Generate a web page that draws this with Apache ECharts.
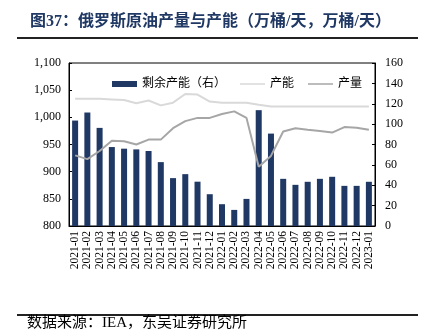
<!DOCTYPE html>
<html><head><meta charset="utf-8">
<script src="https://cdn.jsdelivr.net/npm/echarts@6/dist/echarts.min.js"></script>
<style>html,body{margin:0;padding:0;background:#fff}#c{width:427px;height:336px}</style>
</head><body><div id="c"></div>
<script>
var categories = ['2021-01','2021-02','2021-03','2021-04','2021-05','2021-06','2021-07','2021-08','2021-09','2021-10','2021-11','2021-12','2022-01','2022-02','2022-03','2022-04','2022-05','2022-06','2022-07','2022-08','2022-09','2022-10','2022-11','2022-12','2023-01'];
var spareCapacity = [103.5,111.4,96.3,77.5,75.9,75.2,73.6,62.7,47,50.9,43.5,31.2,21.4,15.8,26.6,113.7,90.7,46.3,40.4,43.4,46.3,48.3,39.4,39.4,43.4];
var capacity = [1034,1034,1034,1033,1032,1026,1031,1022,1027,1043,1042,1029,1027,1027,1027,1023,1020,1020,1020,1020,1020,1020,1020,1020,1020];
var production = [930,923,938,957,956,950,959,959,980,993,999,999,1006,1011,999,909,929,974,980,977,975,972,982,981,977];
var leftTicks = {min:800,max:1100,interval:50};
var rightTicks = {min:0,max:160,interval:20};
var FONT = 'Liberation Serif, "Noto Sans CJK SC", serif';
var LINE_ICON = 'path://M0,0L0.01,0L0.01,0.01Z M0,2.2h25v1.6h-25z M0,6L0.01,6L0.01,5.99Z';
var chart = echarts.init(document.getElementById('c'));
chart.setOption({
  animation:false,
  backgroundColor:'#fff',
  title:{text:'图37：俄罗斯原油产量与产能（万桶/天，万桶/天）',left:25,top:9,
    textStyle:{color:'#1F3864',fontSize:16,fontWeight:'bold',fontFamily:FONT}},
  graphic:[
    {type:'line',shape:{x1:17,y1:38,x2:418,y2:38},style:{stroke:'#222',lineWidth:2}},
    {type:'line',shape:{x1:17,y1:315,x2:418,y2:315},style:{stroke:'#222',lineWidth:2}},
    {type:'text',left:27,top:316,style:{text:'数据来源：IEA，东吴证券研究所',fill:'#000',fontSize:15,fontFamily:FONT}}
  ],
  legend:{top:73,left:107,itemWidth:25,itemHeight:6,itemGap:14,
    textStyle:{fontSize:12,color:'#000',fontFamily:FONT},
    data:[{name:'剩余产能（右）',icon:'rect'},{name:'产能',icon:LINE_ICON},{name:'产量',icon:LINE_ICON}]},
  grid:{left:69,right:52,top:63,bottom:110,show:true,borderColor:'#000',borderWidth:1},
  xAxis:{type:'category',data:categories,
    axisLine:{lineStyle:{color:'#000'}},
    axisTick:{inside:true,length:3,lineStyle:{color:'#fff'}},
    axisLabel:{rotate:90,interval:0,fontSize:11.5,color:'#000',fontFamily:FONT,margin:5}},
  yAxis:[
    {type:'value',min:leftTicks.min,max:leftTicks.max,interval:leftTicks.interval,
     axisLine:{show:true,lineStyle:{color:'#000'}},
     axisTick:{show:true,inside:true,length:3,lineStyle:{color:'#000'}},
     splitLine:{show:false},
     axisLabel:{fontSize:12,color:'#000',fontFamily:FONT,margin:8,
       formatter:function(v){return v>=1000?(Math.floor(v/1000)+','+String(v%1000).padStart(3,'0')):String(v);}}},
    {type:'value',min:rightTicks.min,max:rightTicks.max,interval:rightTicks.interval,position:'right',
     axisLine:{show:true,lineStyle:{color:'#000'}},
     axisTick:{show:true,inside:true,length:3,lineStyle:{color:'#000'}},
     splitLine:{show:false},
     axisLabel:{fontSize:12,color:'#000',fontFamily:FONT,margin:10}}
  ],
  series:[
    {name:'剩余产能（右）',type:'bar',yAxisIndex:1,data:spareCapacity,barWidth:6,itemStyle:{color:'#1F3864'}},
    {name:'产能',type:'line',yAxisIndex:0,data:capacity,symbol:'none',lineStyle:{color:'#D9D9D9',width:2},itemStyle:{color:'#D9D9D9'}},
    {name:'产量',type:'line',yAxisIndex:0,data:production,symbol:'none',lineStyle:{color:'#A6A6A6',width:2},itemStyle:{color:'#A6A6A6'}}
  ]
});
</script></body></html>
